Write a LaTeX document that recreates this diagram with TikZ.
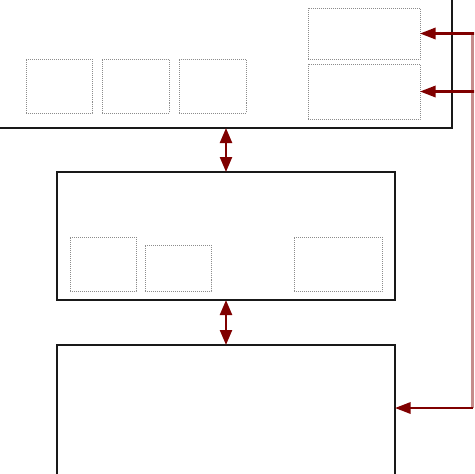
\documentclass[tikz,border=0pt]{standalone}
\usetikzlibrary{arrows.meta}
\definecolor{maroon}{HTML}{800000}
\definecolor{dotgray}{HTML}{8C8C8C}
\begin{document}
\begin{tikzpicture}[x=0.03cm,y=-0.03cm,
  bigbox/.style={draw=black!90, line width=2.1pt, fill=white, rectangle, inner sep=0pt, outer sep=0pt, anchor=north west},
  subbox/.style={draw=dotgray, densely dotted, line width=0.7pt, rectangle, inner sep=0pt, outer sep=0pt, anchor=north west},
  link/.style={draw=maroon, line width=2pt},
  tip/.style={-{Triangle[length=0.47cm,width=0.34cm]}},
  dbl/.style={{Triangle[length=0.45cm,width=0.36cm]}-{Triangle[length=0.45cm,width=0.36cm]}},
  bus/.style={draw=maroon!45, line width=1.8pt}]
\useasboundingbox (0,0) rectangle (474,474);
\clip (0,0) rectangle (474,474);
% main boxes
\node[bigbox, minimum width=457*0.03cm, minimum height=133*0.03cm] (top) at (-5,-5) {};
\node[bigbox, minimum width=338*0.03cm, minimum height=128*0.03cm] (mid) at (57,172) {};
\node[bigbox, minimum width=338*0.03cm, minimum height=140*0.03cm] (bot) at (57,345) {};
% sub boxes in top
\node[subbox, minimum width=66*0.03cm, minimum height=54*0.03cm] (t1) at (26,59) {};
\node[subbox, minimum width=67*0.03cm, minimum height=54*0.03cm] (t2) at (102,59) {};
\node[subbox, minimum width=67*0.03cm, minimum height=54*0.03cm] (t3) at (179,59) {};
\node[subbox, minimum width=112*0.03cm, minimum height=51*0.03cm] (r1) at (308,8) {};
\node[subbox, minimum width=112*0.03cm, minimum height=55*0.03cm] (r2) at (308,64) {};
% sub boxes in middle
\node[subbox, minimum width=66*0.03cm, minimum height=54*0.03cm] (m1) at (70,237) {};
\node[subbox, minimum width=66*0.03cm, minimum height=46*0.03cm] (m2) at (145,245) {};
\node[subbox, minimum width=88*0.03cm, minimum height=54*0.03cm] (m3) at (294,237) {};
% bus
\coordinate (b1) at (472.5,33.5);
\coordinate (b2) at (472.5,91.5);
\coordinate (b3) at (472.5,408);
\coordinate (e1) at (476,33.5);
\coordinate (e2) at (476,91.5);
\draw[bus] (b1) -- (b3);
\draw[link, tip] (e1) -- (r1.east);
\draw[link, tip] (e2) -- (r2.east);
\draw[link, tip] (b3) -- (b3 -| bot.east);
% double arrows
\draw[link, dbl] (mid.north |- top.south) -- (mid.north);
\draw[link, dbl] (mid.south) -- (mid.south |- bot.north);
\end{tikzpicture}
\end{document}
